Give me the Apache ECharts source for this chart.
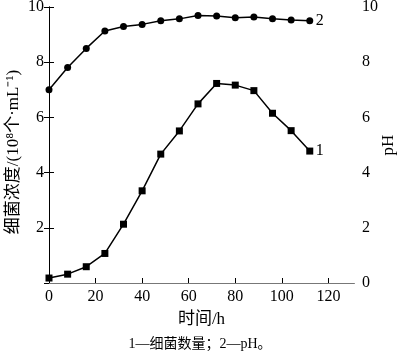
<!DOCTYPE html>
<html>
<head>
<meta charset="utf-8">
<script src="https://cdn.jsdelivr.net/npm/echarts@6/dist/echarts.min.js"></script>
<style>
html, body { margin: 0; padding: 0; background: #fff; }
#main { width: 400px; height: 352px; }
</style>
</head>
<body>
<div id="main"></div>
<script>
// 时间/h
const hours = [0, 8, 16, 24, 32, 40, 48, 56, 64, 72, 80, 88, 96, 104, 112]
// 1 细菌浓度 10^8个/mL
const bacteria = [0.18, 0.32, 0.59, 1.07, 2.13, 3.34, 4.67, 5.51, 6.49, 7.23, 7.17, 6.97, 6.15, 5.52, 4.78]
// 2 pH
const ph = [7.0, 7.81, 8.5, 9.13, 9.29, 9.37, 9.5, 9.57, 9.69, 9.67, 9.61, 9.64, 9.57, 9.53, 9.5]

const font = '"Liberation Serif", "Noto Sans CJK SC", serif'

function pairs(xs, ys) {
    return xs.map((x, i) => [x, ys[i]])
}

let myChart = echarts.init(document.getElementById('main'))
myChart.setOption({
    animation: false,
    textStyle: { fontFamily: font, color: '#000' },
    title: {
        text: '1—细菌数量；2—pH。',
        left: 'center',
        top: 332,
        textStyle: { fontFamily: font, fontSize: 14, fontWeight: 'normal', color: '#000' }
    },
    grid: { left: 49, right: 46, top: 7, bottom: 69, outerBoundsMode: 'none', containLabel: false },
    xAxis: [
        {
            type: 'value',
            min: 0,
            max: 131,
            interval: 20,
            name: '时间/h',
            nameLocation: 'middle',
            nameGap: 28,
            nameMoveOverlap: false,
            nameTextStyle: { fontFamily: font, fontSize: 17, color: '#000' },
            axisLine: { lineStyle: { color: '#000' } },
            axisTick: { inside: true, length: 5, lineStyle: { color: '#000' } },
            axisLabel: { fontFamily: font, fontSize: 16, color: '#000', margin: 6, showMaxLabel: false },
            splitLine: { show: false }
        },
        {
            // 上边框
            type: 'value',
            position: 'top',
            min: 0,
            max: 131,
            axisLine: { show: true, lineStyle: { color: '#777' } },
            axisTick: { show: false },
            axisLabel: { show: false },
            splitLine: { show: false }
        }
    ],
    yAxis: [
        {
            type: 'value',
            min: 0,
            max: 10,
            interval: 2,
            name: '细菌浓度/(10⁸个·mL⁻¹)',
            nameLocation: 'middle',
            nameGap: 27,
            nameMoveOverlap: false,
            nameTextStyle: { fontFamily: font, fontSize: 17, color: '#000', padding: [0, 14, 0, 0] },
            axisLine: { show: true, lineStyle: { color: '#000' } },
            axisTick: { show: true, inside: true, length: 5, lineStyle: { color: '#000' } },
            axisLabel: { fontFamily: font, fontSize: 16, color: '#000', margin: 5, showMinLabel: false },
            splitLine: { show: false }
        },
        {
            type: 'value',
            position: 'right',
            min: 0,
            max: 10,
            interval: 2,
            name: 'pH',
            nameLocation: 'middle',
            nameGap: 26,
            nameRotate: 90,
            nameMoveOverlap: false,
            nameTextStyle: { fontFamily: font, fontSize: 17, color: '#000' },
            axisLine: { show: true, lineStyle: { color: '#000' } },
            axisTick: { show: true, inside: true, length: 5, lineStyle: { color: '#000' } },
            axisLabel: { fontFamily: font, fontSize: 16, color: '#000', margin: 8 },
            splitLine: { show: false }
        }
    ],
    series: [
        {
            name: '细菌数量',
            type: 'line',
            yAxisIndex: 0,
            data: pairs(hours, bacteria),
            symbol: 'rect',
            symbolSize: 7,
            lineStyle: { color: '#000', width: 1.5 },
            itemStyle: { color: '#000' },
            endLabel: { show: true, formatter: '1', fontFamily: font, fontSize: 16, color: '#000', distance: 6 }
        },
        {
            name: 'pH',
            type: 'line',
            yAxisIndex: 1,
            data: pairs(hours, ph),
            symbol: 'circle',
            symbolSize: 7,
            lineStyle: { color: '#000', width: 1.5 },
            itemStyle: { color: '#000' },
            endLabel: { show: true, formatter: '2', fontFamily: font, fontSize: 16, color: '#000', distance: 6 }
        }
    ]
})
</script>
</body>
</html>
